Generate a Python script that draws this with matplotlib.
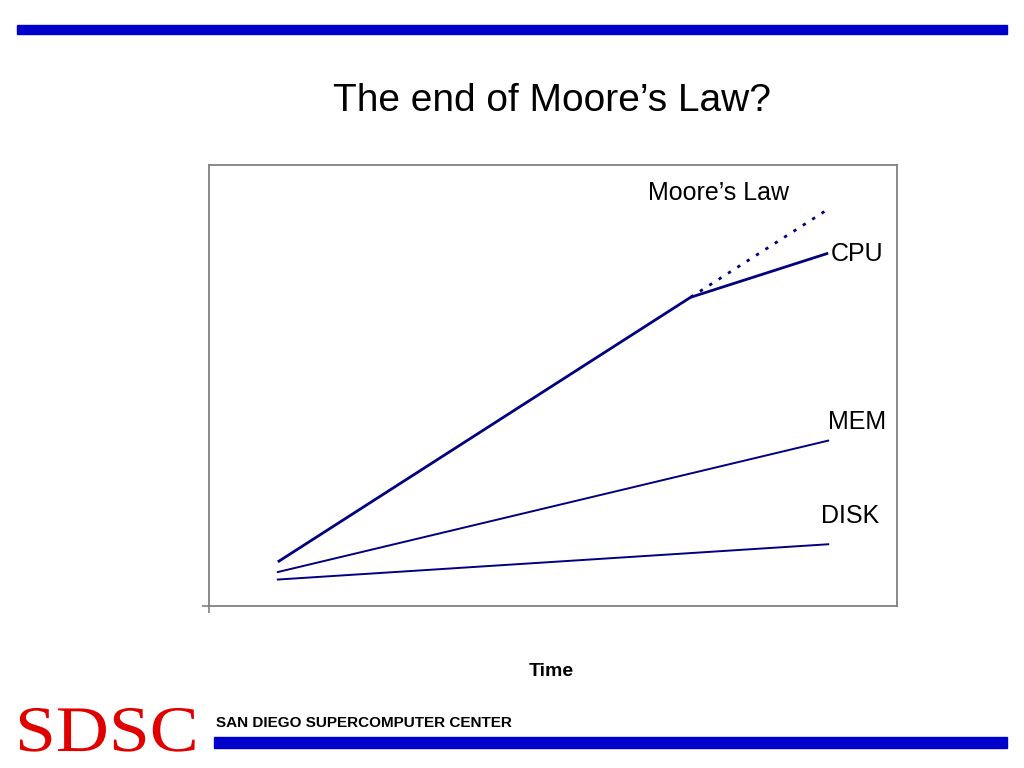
import matplotlib
matplotlib.use("Agg")
import matplotlib.pyplot as plt
from matplotlib.patches import Rectangle, PathPatch
from matplotlib.textpath import TextPath
from matplotlib.font_manager import FontProperties
from matplotlib.transforms import Affine2D

plt.rcParams['font.family'] = ['Liberation Sans', 'DejaVu Sans']

# Data (arbitrary units)
cpu_x = [1.0, 7.0, 9.0]
cpu_y = [1.0, 7.0, 8.0]
moore_x = [7.0, 9.0]
moore_y = [7.0, 9.0]
mem_x = [1.0, 9.0]
mem_y = [0.77, 3.75]
disk_x = [1.0, 9.0]
disk_y = [0.6, 1.4]
labels = ["Moore\u2019s Law", "CPU", "MEM", "DISK"]

W, H = 1024, 768
fig = plt.figure(figsize=(10.24, 7.68), dpi=100)
pix = Affine2D().scale(1 / W, 1 / H) + fig.transFigure

# decorative bars
fig.patches.append(Rectangle((17, H - 34), 990, 9, transform=pix, color='#0000cc', zorder=0))
fig.patches.append(Rectangle((214, H - 748), 793, 11, transform=pix, color='#0000cc', zorder=0))

fig.text(552 / W, 1 - 101 / H, "The end of Moore\u2019s Law?", ha='center', va='center', fontsize=28)

# SDSC logo text (slightly stretched serif)
tp = TextPath((0, 0), "SDSC", size=65, prop=FontProperties(family='Liberation Serif'))
logo_tr = Affine2D().scale(1.13, 1.0).translate(15, H - 751) + pix
fig.patches.append(PathPatch(tp, transform=logo_tr, color='#e00000', lw=0))

fig.text(216 / W, 1 - 723 / H, "SAN DIEGO SUPERCOMPUTER CENTER", ha='left', va='center',
         fontsize=11, fontweight='bold')

ax = fig.add_axes([209 / W, 1 - 606 / H, (897 - 209) / W, (606 - 165) / H])
ax.set_xlim(0, 10)
ax.set_ylim(0, 10)
navy = '#000080'
ax.plot(cpu_x, cpu_y, color=navy, lw=2.0, solid_capstyle='butt')
ax.plot(moore_x, moore_y, color=navy, lw=2.0, linestyle=(0, (1.2, 2.8)))
ax.plot(mem_x, mem_y, color=navy, lw=1.4)
ax.plot(disk_x, disk_y, color=navy, lw=1.4)

ax.text(7.4, 9.36, labels[0], ha='center', va='center', fontsize=18)
ax.text(9.03, 7.98, labels[1], ha='left', va='center', fontsize=18)
ax.text(9.0, 4.18, labels[2], ha='left', va='center', fontsize=18)
ax.text(8.9, 2.03, labels[3], ha='left', va='center', fontsize=18)

ax.set_xticks([0])
ax.set_yticks([0])
ax.set_xticklabels([])
ax.set_yticklabels([])
ax.tick_params(length=5, color='#808080', width=1.2)
for s in ax.spines.values():
    s.set_color('#808080')
    s.set_linewidth(1.3)
ax.set_xlabel("Time", fontsize=14, fontweight='bold')
ax.xaxis.set_label_coords(0.497, (606 - 671) / (606 - 165), transform=ax.transAxes)
ax.xaxis.label.set_va('center')

fig.savefig("out.png", dpi=100)
